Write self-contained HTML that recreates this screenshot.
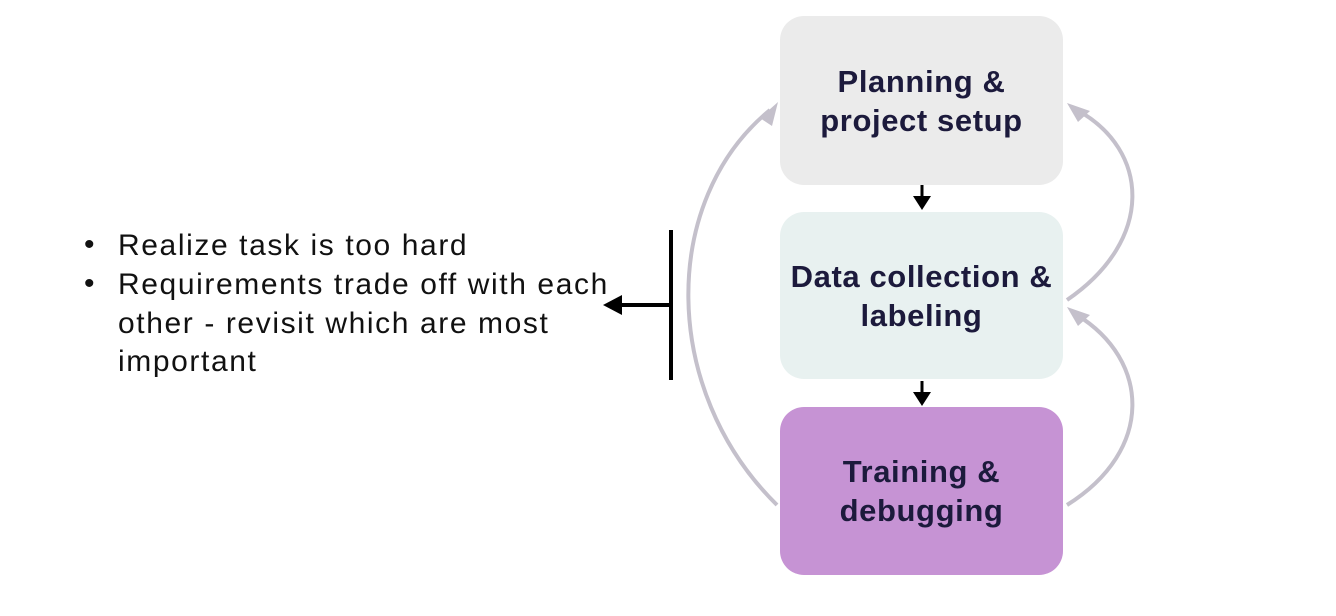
<!DOCTYPE html>
<html><head><meta charset="utf-8"><style>
body{margin:0;width:1336px;height:616px;background:#fff;position:relative;overflow:hidden;font-family:"Liberation Sans",sans-serif}
.box{position:absolute;left:780px;width:283px;border-radius:24px;display:flex;align-items:center;justify-content:center;text-align:center;font-weight:bold;font-size:31px;letter-spacing:0.6px;line-height:39px;color:#1c1a3c}
.t{position:absolute;left:118px;font-size:30px;letter-spacing:1.6px;color:#111;line-height:38.5px}
.b{position:absolute;left:84px;font-size:30px;color:#111}
</style></head><body>
<div class="box" style="top:16px;height:169px;background:#ebebeb">Planning &amp;<br>project setup</div>
<div class="box" style="top:212px;height:167px;background:#e8f1f0">Data collection &amp;<br>labeling</div>
<div class="box" style="top:407px;height:168px;background:#c693d4">Training &amp;<br>debugging</div>
<div class="b" style="top:228px">•</div>
<div class="b" style="top:267px">•</div>
<div class="t" style="top:227px">Realize task is too hard</div>
<div class="t" style="top:266px">Requirements trade off with each<br>other - revisit which are most<br>important</div>
<svg width="1336" height="616" style="position:absolute;left:0;top:0">
<g fill="none" stroke="#c4c0cb" stroke-width="4">
<path d="M777,505 C660,390 660,200 770,110"/>
<path d="M1067,300 C1155,240 1150,150 1077,110"/>
<path d="M1067,505 C1155,450 1150,360 1077,315"/>
</g>
<path d="M760,118 L778,102 L772,126 Z" fill="#c4c0cb"/>
<path d="M1067,103 L1090,111 L1078,122 Z" fill="#c4c0cb"/>
<path d="M1067,307 L1090,315 L1078,326 Z" fill="#c4c0cb"/>
<line x1="922" y1="185" x2="922" y2="200" stroke="#000" stroke-width="3"/>
<path d="M913,196 L931,196 L922,210 Z" fill="#000"/>
<line x1="922" y1="381" x2="922" y2="396" stroke="#000" stroke-width="3"/>
<path d="M913,392 L931,392 L922,406 Z" fill="#000"/>
<line x1="671" y1="230" x2="671" y2="380" stroke="#000" stroke-width="4"/>
<line x1="671" y1="305" x2="615" y2="305" stroke="#000" stroke-width="4"/>
<path d="M603,305 L622,295 L622,315 Z" fill="#000"/>
</svg>
</body></html>
